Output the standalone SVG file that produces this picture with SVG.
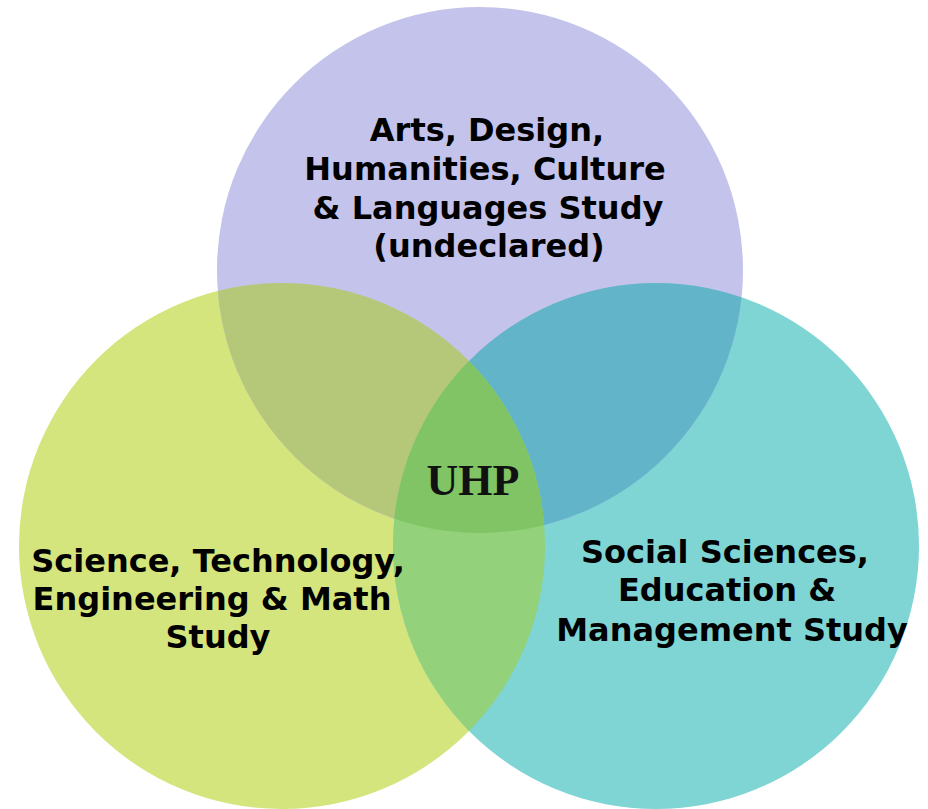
<svg xmlns="http://www.w3.org/2000/svg" width="928" height="809" viewBox="0 0 928 809">
<style>
.lbl{font-family:"DejaVu Sans","Noto Sans",sans-serif;font-weight:bold;font-size:32px;fill:#000;text-anchor:middle}
.uhp{font-family:"Liberation Serif","Times New Roman",serif;font-weight:bold;font-size:44px;fill:#111;text-anchor:middle}
</style>
<defs>
<clipPath id="cT"><circle cx="480" cy="270" r="263"/></clipPath>
<clipPath id="cL"><circle cx="282" cy="546" r="263"/></clipPath>
<clipPath id="cR"><circle cx="656" cy="546" r="263"/></clipPath>
</defs>
<rect width="928" height="809" fill="#ffffff"/>
<g id="left-circle"><circle cx="282" cy="546" r="263" fill="#D4E57D"/></g>
<g id="right-circle"><circle cx="656" cy="546" r="263" fill="#7FD4D4"/></g>
<g id="top-circle"><circle cx="480" cy="270" r="263" fill="#C3C3EC"/></g>
<g id="overlaps">
<g clip-path="url(#cT)"><circle cx="282" cy="546" r="263" fill="#B5C87A"/></g>
<g clip-path="url(#cT)"><circle cx="656" cy="546" r="263" fill="#62B5C9"/></g>
<g clip-path="url(#cL)"><circle cx="656" cy="546" r="263" fill="#93D17A"/></g>
<g clip-path="url(#cT)"><g clip-path="url(#cL)"><circle cx="656" cy="546" r="263" fill="#80C466"/></g></g>
</g>
<g id="top-label">
<text class="lbl" x="487" y="141">Arts, Design,</text>
<text class="lbl" x="485" y="180">Humanities, Culture</text>
<text class="lbl" x="488" y="219">&amp; Languages Study</text>
<text class="lbl" x="489" y="257">(undeclared)</text>
</g>
<g id="left-label">
<text class="lbl" x="218" y="572">Science, Technology,</text>
<text class="lbl" x="212" y="610">Engineering &amp; Math</text>
<text class="lbl" x="218" y="648">Study</text>
</g>
<g id="right-label">
<text class="lbl" x="725" y="563">Social Sciences,</text>
<text class="lbl" x="727" y="601">Education &amp;</text>
<text class="lbl" x="732" y="641">Management Study</text>
</g>
<g id="center-label">
<text class="uhp" x="473" y="495">UHP</text>
</g>
</svg>
